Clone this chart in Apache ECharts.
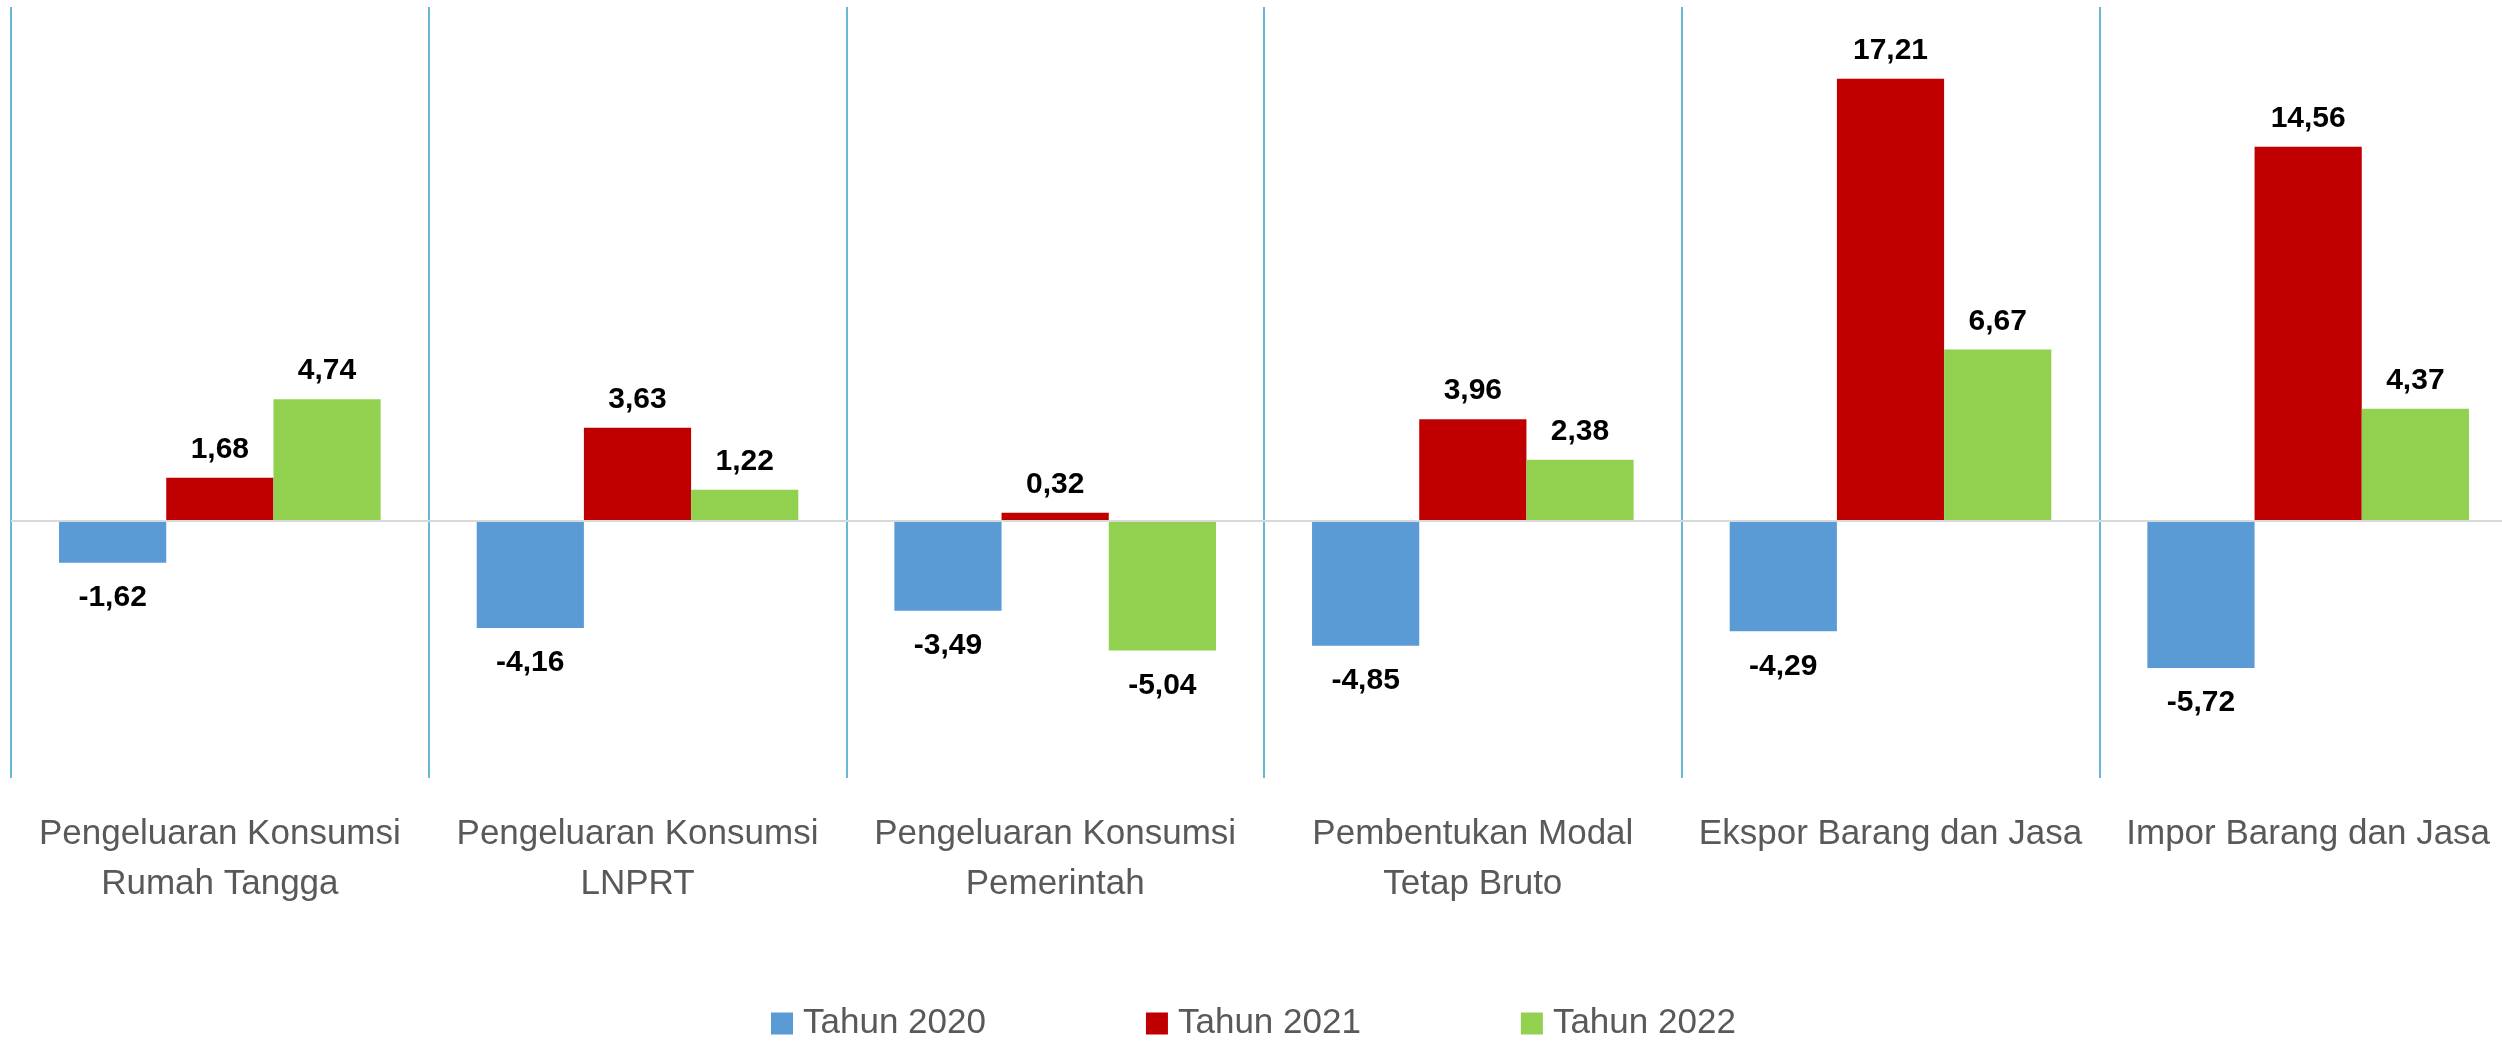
<!DOCTYPE html>
<html>
<head>
<meta charset="utf-8">
<script src="https://cdn.jsdelivr.net/npm/echarts@6/dist/echarts.min.js"></script>
<style>
html,body{margin:0;padding:0;background:#fff;}
#chart{width:2502px;height:1042px;}
</style>
</head>
<body>
<div id="chart"></div>
<script>
const categories = [
  'Pengeluaran Konsumsi\nRumah Tangga',
  'Pengeluaran Konsumsi\nLNPRT',
  'Pengeluaran Konsumsi\nPemerintah',
  'Pembentukan Modal\nTetap Bruto',
  'Ekspor Barang dan Jasa',
  'Impor Barang dan Jasa'
];
const seriesNames = ['Tahun 2020', 'Tahun 2021', 'Tahun 2022'];
const values2020 = [-1.62, -4.16, -3.49, -4.85, -4.29, -5.72];
const values2021 = [1.68, 3.63, 0.32, 3.96, 17.21, 14.56];
const values2022 = [4.74, 1.22, -5.04, 2.38, 6.67, 4.37];
const colors = ['#5b9bd5', '#c00000', '#92d050'];

const FONT = '"Liberation Sans", Arial, sans-serif';

function toData(arr) {
  return arr.map(v => ({
    value: v,
    label: v < 0 ? { position: 'bottom', distance: 20 } : { position: 'top', distance: 13 }
  }));
}

const allValues = [values2020, values2021, values2022];

const series = allValues.map((vals, i) => ({
  name: seriesNames[i],
  type: 'bar',
  data: toData(vals),
  barGap: '0%',
  barCategoryGap: '23%',
  itemStyle: { color: colors[i] },
  label: {
    show: true,
    color: '#000',
    fontFamily: FONT,
    fontWeight: 'bold',
    fontSize: 30,
    formatter: p => p.value.toFixed(2).replace('.', ',')
  },
  markLine: i === 0 ? {
    silent: true,
    symbol: 'none',
    label: { show: false },
    lineStyle: { color: '#d9d9d9', width: 2, type: 'solid' },
    data: [{ yAxis: 0 }]
  } : undefined,
  z: 3
}));

const chart = echarts.init(document.getElementById('chart'), null, { renderer: 'canvas' });
chart.setOption({
  animation: false,
  backgroundColor: '#fff',
  grid: { left: 11, top: 7, width: 2506, height: 771, containLabel: false, outerBoundsMode: 'none' },
  legend: {
    data: seriesNames,
    left: 766,
    top: 1001,
    icon: 'rect',
    itemWidth: 22,
    itemHeight: 22,
    itemGap: 160,
    textStyle: {
      fontFamily: FONT,
      fontSize: 35,
      color: '#595959',
      padding: [0, 0, 0, 5]
    }
  },
  xAxis: {
    type: 'category',
    data: categories,
    position: 'bottom',
    axisLine: { show: false, onZero: false },
    axisTick: { show: false },
    splitLine: {
      show: true,
      interval: 0,
      lineStyle: { color: '#3aa0c8', width: 1.5 }
    },
    axisLabel: {
      interval: 0,
      margin: 31,
      fontFamily: FONT,
      fontSize: 35,
      lineHeight: 50,
      color: '#595959'
    }
  },
  yAxis: {
    type: 'value',
    min: -10,
    max: 20,
    interval: 5,
    show: false,
    splitLine: { show: false }
  },
  series: series
});
</script>
</body>
</html>
